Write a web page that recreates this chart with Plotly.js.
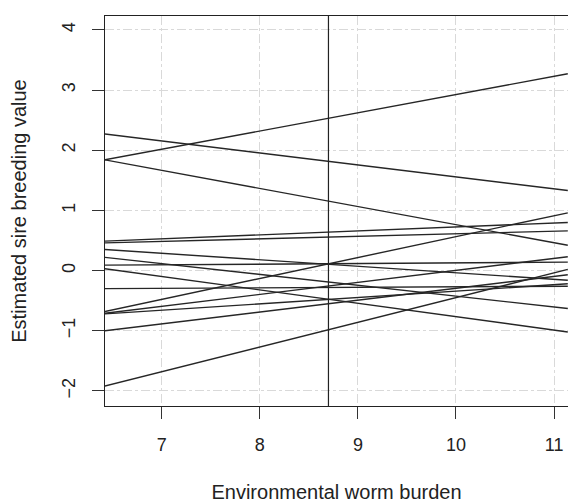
<!DOCTYPE html>
<html>
<head>
<meta charset="utf-8">
<script src="https://cdn.plot.ly/plotly-3.0.1.min.js"></script>
<style>html,body{margin:0;padding:0;background:#fff;}#chart{width:568px;height:503px;}</style>
</head>
<body>
<div id="chart"></div>
<script>
// Environmental worm burden at the two ends of each reaction-norm line
var burdenEnds = [6.42, 11.14];
// Estimated sire breeding value at the low and high end of worm burden
var sireLow  = [2.27, 1.84, 1.84, 0.49, 0.46, 0.35, 0.22, 0.09, 0.03, -0.30, -0.68, -0.71, -0.72, -1.00, -1.92];
var sireHigh = [1.33, 3.27, 0.42, 0.80, 0.66, -0.16, -0.63, 0.14, -1.02, -0.26, 0.96, 0.23, -0.22, -0.07, 0.02];
var meanBurden = 8.7;
var xTicks = [7, 8, 9, 10, 11];
var yTicks = [-2, -1, 0, 1, 2, 3, 4];

var traces = [];
for (var i = 0; i < sireLow.length; i++) {
  traces.push({
    x: burdenEnds,
    y: [sireLow[i], sireHigh[i]],
    mode: 'lines',
    type: 'scatter',
    line: {color: '#262626', width: 1.4},
    hoverinfo: 'skip',
    showlegend: false
  });
}

var font = 'Liberation Sans, Arial, Helvetica, sans-serif';
var layout = {
  width: 568, height: 503,
  margin: {l: 105, r: 0, t: 16, b: 97},
  paper_bgcolor: '#fff', plot_bgcolor: '#fff',
  font: {family: font, color: '#222', size: 18},
  xaxis: {
    range: [6.422, 11.142],
    tickvals: xTicks, ticktext: xTicks.map(String),
    ticks: 'outside', ticklen: 12, tickwidth: 1, tickcolor: '#333',
    showline: true, linecolor: '#222', linewidth: 1.2, mirror: true,
    showgrid: true, gridcolor: '#d9d9d9', griddash: 'dashdot', gridwidth: 1,
    zeroline: false,
    tickfont: {size: 18, family: font, color: '#222'},
    ticklabelstandoff: 10,
    title: {text: 'Environmental worm burden', font: {size: 20, family: font, color: '#222'}, standoff: 34}
  },
  yaxis: {
    range: [-2.25, 4.23],
    tickvals: yTicks, ticktext: yTicks.map(function(v){return v < 0 ? '\u2212' + Math.abs(v) : String(v);}),
    tickangle: -90,
    ticks: 'outside', ticklen: 12, tickwidth: 1, tickcolor: '#333',
    showline: true, linecolor: '#222', linewidth: 1.2, mirror: false,
    showgrid: true, gridcolor: '#d9d9d9', griddash: 'dashdot', gridwidth: 1,
    zeroline: false,
    tickfont: {size: 18, family: font, color: '#222'},
    ticklabelstandoff: 10,
    title: {text: 'Estimated sire breeding value', font: {size: 20, family: font, color: '#222'}, standoff: 26}
  },
  shapes: [{
    type: 'line', xref: 'x', yref: 'paper',
    x0: meanBurden, x1: meanBurden, y0: 0, y1: 1,
    line: {color: '#222', width: 1.2}
  }]
};

Plotly.newPlot('chart', traces, layout, {staticPlot: true, displayModeBar: false});
</script>
</body>
</html>
